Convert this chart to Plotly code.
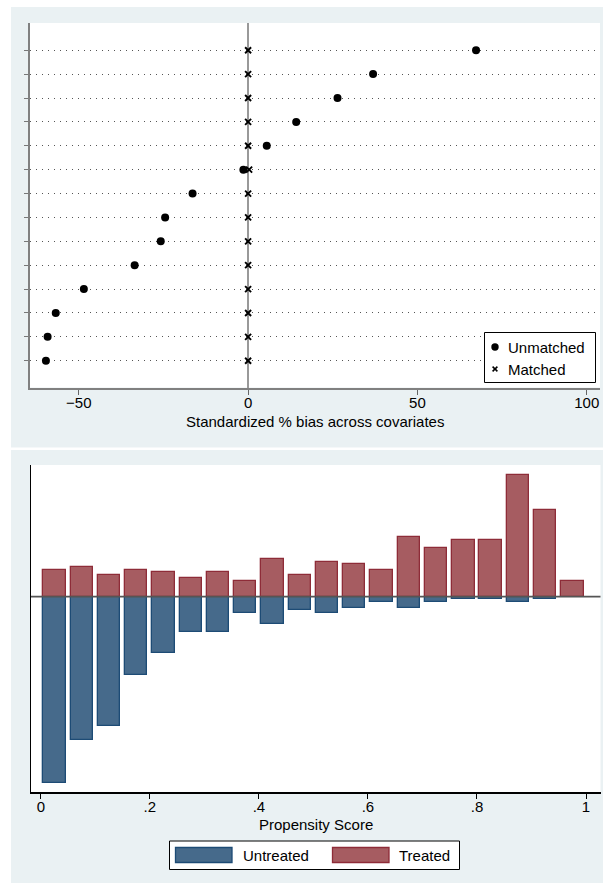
import plotly.graph_objects as go

W, H = 603, 883

# ---- covariate balance (standardized % bias) ----
covariate_rows = [1, 2, 3, 4, 5, 6, 7, 8, 9, 10, 11, 12, 13, 14]
bias_unmatched = [-59.7, -59.2, -56.8, -48.5, -33.5, -25.8, -24.5,
                  -16.4, -1.4, 5.5, 14.2, 26.4, 36.9, 67.3]
bias_matched = [0.0, 0.0, 0.0, 0.0, 0.0, 0.0, 0.0,
                0.0, 0.3, 0.0, 0.0, 0.0, 0.0, 0.0]
bias_ticks = [-50, 0, 50, 100]

# ---- propensity score histogram (counts per bin) ----
ps_bin_mid = [0.025, 0.075, 0.125, 0.175, 0.225, 0.275, 0.325, 0.375, 0.425, 0.475,
              0.525, 0.575, 0.625, 0.675, 0.725, 0.775, 0.825, 0.875, 0.925, 0.975]
untreated_n = [69, 53, 48, 29, 21, 13, 13, 6, 10, 5, 6, 4, 2, 4, 2, 1, 1, 2, 1, 0]
treated_n = [10, 11, 8, 10, 9, 7, 9, 6, 14, 8, 13, 12, 10, 22, 18, 21, 21, 45, 32, 6]
ps_ticks = [0, 0.2, 0.4, 0.6, 0.8, 1]
ps_ticktext = ["0", ".2", ".4", ".6", ".8", "1"]

BG = "#EAF1F3"
BLUE_FILL, BLUE_LINE = "#466A8B", "#1D4B75"
RED_FILL, RED_LINE = "#A65C61", "#8E2C38"
FONT = "Liberation Sans, Arial, Helvetica, sans-serif"


def px(x):
    return x / W


def py(y):
    return 1 - y / H


fig = go.Figure()

fig.add_trace(go.Scatter(
    x=bias_unmatched, y=covariate_rows, mode="markers", name="Unmatched",
    marker=dict(symbol="circle", size=8, color="black"),
    xaxis="x", yaxis="y", showlegend=False, cliponaxis=False))
fig.add_trace(go.Scatter(
    x=bias_matched, y=covariate_rows, mode="markers", name="Matched",
    marker=dict(symbol="x-thin", size=6, color="black",
                line=dict(width=1.9, color="black")),
    xaxis="x", yaxis="y", showlegend=False, cliponaxis=False))

fig.add_trace(go.Bar(
    x=ps_bin_mid, y=[-v for v in untreated_n], width=0.041, name="Untreated",
    marker=dict(color=BLUE_FILL, line=dict(color=BLUE_LINE, width=1.3)),
    xaxis="x2", yaxis="y2", showlegend=False))
fig.add_trace(go.Bar(
    x=ps_bin_mid, y=treated_n, width=0.041, name="Treated",
    marker=dict(color=RED_FILL, line=dict(color=RED_LINE, width=1.3)),
    xaxis="x2", yaxis="y2", showlegend=False))

shapes = [
    # white margins around the two grey panels
    dict(type="rect", xref="paper", yref="paper", x0=0, x1=px(11), y0=0, y1=1,
         fillcolor="white", line_width=0, layer="below"),
    dict(type="rect", xref="paper", yref="paper", x0=0, x1=1, y0=py(7), y1=1,
         fillcolor="white", line_width=0, layer="below"),
    dict(type="rect", xref="paper", yref="paper", x0=0, x1=1, y0=py(450), y1=py(447.5),
         fillcolor="white", line_width=0, layer="below"),
    # baseline of the mirrored histogram
    dict(type="line", xref="x2 domain", yref="y2", x0=0, x1=1, y0=0, y1=0,
         line=dict(color="#555555", width=1.8), layer="above"),
    # legend of the balance plot
    dict(type="rect", xref="paper", yref="paper", x0=px(484.5), x1=px(595.5),
         y0=py(382.5), y1=py(332.5), fillcolor="white",
         line=dict(color="black", width=1), layer="above"),
    dict(type="circle", xref="paper", yref="paper", x0=px(491.3), x1=px(498.7),
         y0=py(350.7), y1=py(343.3), fillcolor="black", line_width=0, layer="above"),
    dict(type="line", xref="paper", yref="paper", x0=px(492.6), x1=px(497.4),
         y0=py(366.6), y1=py(371.4), line=dict(color="black", width=1.5), layer="above"),
    dict(type="line", xref="paper", yref="paper", x0=px(492.6), x1=px(497.4),
         y0=py(371.4), y1=py(366.6), line=dict(color="black", width=1.5), layer="above"),
    # legend of the histogram
    dict(type="rect", xref="paper", yref="paper", x0=px(169.5), x1=px(459.5),
         y0=py(869.5), y1=py(841), fillcolor="white",
         line=dict(color="black", width=1), layer="above"),
    dict(type="rect", xref="paper", yref="paper", x0=px(175.5), x1=px(232),
         y0=py(862.5), y1=py(847.5), fillcolor=BLUE_FILL,
         line=dict(color=BLUE_LINE, width=1.3), layer="above"),
    dict(type="rect", xref="paper", yref="paper", x0=px(332.5), x1=px(389),
         y0=py(862.5), y1=py(847.5), fillcolor=RED_FILL,
         line=dict(color=RED_LINE, width=1.3), layer="above"),
]

annotations = [
    dict(text="Standardized % bias across covariates", xref="paper", yref="paper",
         x=px(315), y=py(421), xanchor="center", yanchor="middle", showarrow=False),
    dict(text="Propensity Score", xref="paper", yref="paper",
         x=px(315.5), y=py(824), xanchor="center", yanchor="middle", showarrow=False),
    dict(text="Unmatched", xref="paper", yref="paper", x=px(506), y=py(347),
         xanchor="left", yanchor="middle", showarrow=False),
    dict(text="Matched", xref="paper", yref="paper", x=px(506), y=py(369),
         xanchor="left", yanchor="middle", showarrow=False),
    dict(text="Untreated", xref="paper", yref="paper", x=px(241), y=py(855),
         xanchor="left", yanchor="middle", showarrow=False),
    dict(text="Treated", xref="paper", yref="paper", x=px(397), y=py(855),
         xanchor="left", yanchor="middle", showarrow=False),
]

fig.update_layout(
    width=W, height=H, autosize=False,
    margin=dict(l=0, r=0, t=0, b=0, pad=0),
    paper_bgcolor=BG, plot_bgcolor="white",
    font=dict(family=FONT, size=15, color="black"),
    barmode="overlay", bargap=0,
    shapes=shapes, annotations=annotations,
    xaxis=dict(
        domain=[px(30), px(600)], anchor="y",
        range=[-64.4, 103.9], tickvals=bias_ticks,
        ticks="outside", ticklen=5, tickwidth=1, tickcolor="#666666",
        ticklabelstandoff=-5,
        showline=True, linecolor="#808080", linewidth=2,
        showgrid=False, zeroline=True, zerolinecolor="#999999", zerolinewidth=1.5,
        tickfont=dict(size=15)),
    yaxis=dict(
        domain=[py(387.5), py(23)], anchor="x",
        range=[-0.12, 15.14], tickvals=covariate_rows, showticklabels=False,
        ticks="outside", ticklen=4, tickwidth=1, tickcolor="#777777",
        showline=True, linecolor="#808080", linewidth=2,
        showgrid=True, gridcolor="#555555", gridwidth=1, griddash="1px,5px",
        zeroline=False),
    xaxis2=dict(
        domain=[px(31), px(600.5)], anchor="y2",
        range=[-0.018, 1.0266], tickvals=ps_ticks, ticktext=ps_ticktext,
        ticks="outside", ticklen=5, tickwidth=1, tickcolor="black",
        ticklabelstandoff=-5,
        showline=True, linecolor="black", linewidth=1.5,
        showgrid=False, zeroline=False, tickfont=dict(size=15)),
    yaxis2=dict(
        domain=[py(792), py(465)], anchor="x2",
        range=[-72.33, 48.78], showticklabels=False, ticks="",
        showline=True, linecolor="black", linewidth=1,
        showgrid=False, zeroline=False),
)

fig.write_html("out.html")
